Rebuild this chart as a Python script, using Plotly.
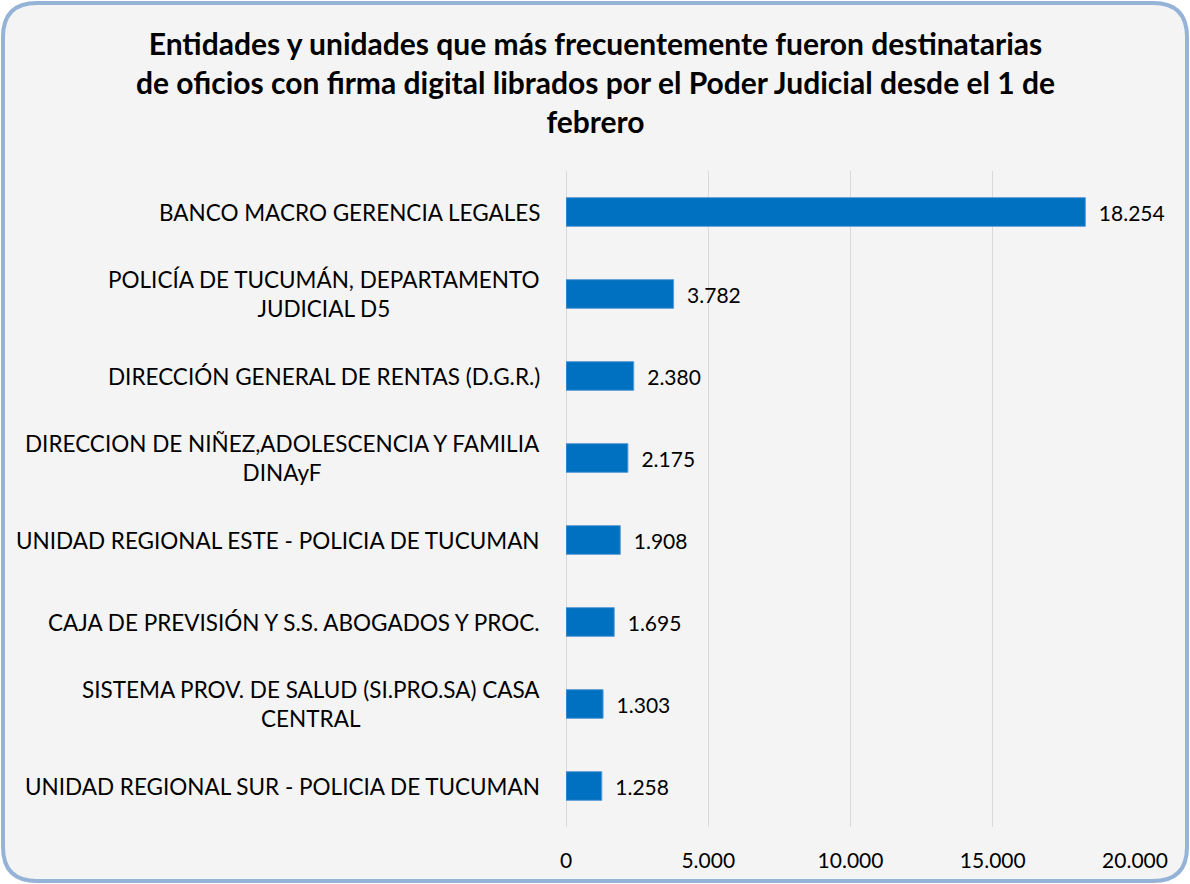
import plotly.graph_objects as go

categories = [
    "BANCO MACRO GERENCIA LEGALES",
    "POLICÍA DE TUCUMÁN, DEPARTAMENTO<br>JUDICIAL D5",
    "DIRECCIÓN GENERAL DE RENTAS (D.G.R.)",
    "DIRECCION DE NIÑEZ,ADOLESCENCIA Y FAMILIA<br>DINAyF",
    "UNIDAD REGIONAL ESTE - POLICIA DE TUCUMAN",
    "CAJA DE PREVISIÓN Y S.S. ABOGADOS Y PROC.",
    "SISTEMA PROV. DE SALUD (SI.PRO.SA) CASA<br>CENTRAL",
    "UNIDAD REGIONAL SUR - POLICIA DE TUCUMAN",
]
values = [18254, 3782, 2380, 2175, 1908, 1695, 1303, 1258]
tick_vals = [0, 5000, 10000, 15000, 20000]
tick_text = ["0", "5.000", "10.000", "15.000", "20.000"]

title = ("Entidades y unidades que más frecuentemente fueron destinatarias<br>"
         "de oficios con firma digital librados por el Poder Judicial desde el 1 de<br>"
         "febrero")

FONT = "Lato"
W, H = 1190, 884
L, R, T, B = 566, 55, 171, 57
pw = W - L - R
ph = H - T - B

def fmt(v):
    return f"{v:,}".replace(",", ".")

labels = ["\u2002" + fmt(v) for v in values]

fig = go.Figure()
fig.add_trace(go.Bar(
    x=values, y=categories, orientation="h",
    marker=dict(color="#0070C0", line=dict(color="#5B9BD5", width=1)),
    text=labels, textposition="outside", cliponaxis=False,
    textfont=dict(family=FONT, size=21, color="#000000"),
    hoverinfo="x+y",
))

# rounded border (pixel -> paper)
def px(x):
    return (x - L) / pw
def py(y):
    return 1 - (y - T) / ph

x0, y0, x1, y1, r = 3, 3, 1187, 881, 34
path = (f"M {px(x0+r)},{py(y0)} L {px(x1-r)},{py(y0)} "
        f"Q {px(x1)},{py(y0)} {px(x1)},{py(y0+r)} "
        f"L {px(x1)},{py(y1-r)} Q {px(x1)},{py(y1)} {px(x1-r)},{py(y1)} "
        f"L {px(x0+r)},{py(y1)} Q {px(x0)},{py(y1)} {px(x0)},{py(y1-r)} "
        f"L {px(x0)},{py(y0+r)} Q {px(x0)},{py(y0)} {px(x0+r)},{py(y0)} Z")

annotations = []
for c in categories:
    annotations.append(dict(
        x=px(542), y=c, xref="paper", yref="y", text=c, showarrow=False,
        xanchor="right", yanchor="middle", align="center",
        font=dict(family=FONT, size=22.5, color="#000000"),
    ))
annotations.append(dict(
    x=px(595), y=py(23), xref="paper", yref="paper", text=title,
    showarrow=False, xanchor="center", yanchor="top", align="center",
    font=dict(family=FONT, size=30, color="#000000", weight="bold"),
))

fig.update_layout(
    width=W, height=H,
    margin=dict(l=L, r=R, t=T, b=B),
    paper_bgcolor="#ffffff",
    plot_bgcolor="rgba(0,0,0,0)",
    separators=",.",
    showlegend=False,
    bargap=0.65,
    shapes=[dict(type="path", path=path, xref="paper", yref="paper",
                 fillcolor="#f4f4f4", line=dict(color="#95B3D7", width=4),
                 layer="below")],
    annotations=annotations,
    xaxis=dict(range=[0, 20000], tickvals=tick_vals, ticktext=tick_text,
               showgrid=True, gridcolor="#d9d9d9", gridwidth=1,
               zeroline=True, zerolinecolor="#d9d9d9", zerolinewidth=1,
               showline=False, ticks="", ticklabelstandoff=19,
               tickfont=dict(family=FONT, size=21, color="#000000"),
               fixedrange=True),
    yaxis=dict(autorange="reversed", showticklabels=False, showgrid=False,
               showline=False, ticks="", fixedrange=True),
)

fig.write_html("out.html", config={"displayModeBar": False},
               post_script="document.body.style.margin='0';document.body.style.padding='0';")
